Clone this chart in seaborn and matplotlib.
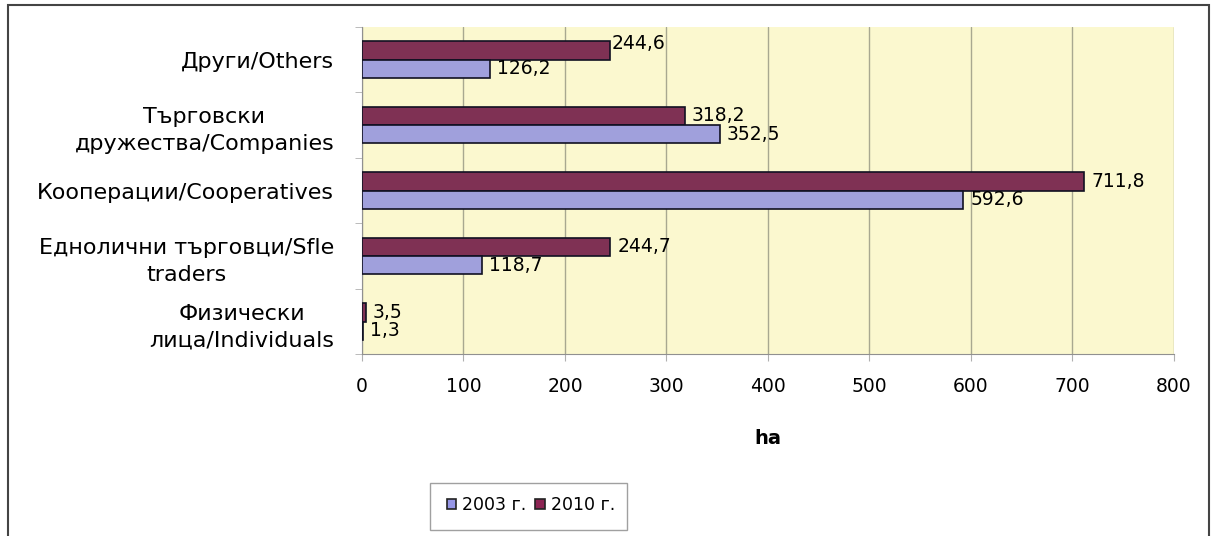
import numpy as np
import pandas as pd
import matplotlib
matplotlib.use("Agg")
import matplotlib.pyplot as plt
import seaborn as sns
from matplotlib.patches import Rectangle, Patch

categories = ["Други/Others", "Търговски\nдружества/Companies", "Кооперации/Cooperatives",
              "Еднолични търговци/Sfle\ntraders", "Физически\nлица/Individuals"]
vals_2003 = [126.2, 352.5, 592.6, 118.7, 1.3]
vals_2010 = [244.6, 318.2, 711.8, 244.7, 3.5]
years = ["2003 г.", "2010 г."]
colors = {"2003 г.": "#9696E6", "2010 г.": "#8C2453"}

df = pd.DataFrame({
    "cat": categories * 2,
    "year": [years[0]] * 5 + [years[1]] * 5,
    "val": vals_2003 + vals_2010,
})

sns.set_style("white")
plt.rcParams['font.family'] = ['DejaVu Sans']
plt.rcParams['text.color'] = 'black'
plt.rcParams['xtick.color'] = 'black'
plt.rcParams['ytick.color'] = 'black'
plt.rcParams['axes.labelcolor'] = 'black'

fig = plt.figure(figsize=(12.12, 5.36), dpi=100)
ax = fig.add_axes([0.2987, 0.339, 0.6697, 0.611])

sns.barplot(data=df, y="cat", x="val", hue="year", hue_order=[years[1], years[0]],
            palette=colors, order=categories, orient="h", width=0.56,
            edgecolor="#111122", linewidth=1.2, ax=ax, legend=False, zorder=3)

ax.set_facecolor("#FBF8CF")
ax.set_xlim(0, 800)
ax.set_ylim(4.5, -0.5)
ax.set_xticks(range(0, 801, 100))
ax.grid(axis="x", color="#A8A890", linewidth=1, zorder=0)
ax.grid(axis="y", visible=False)
for s in ["top", "right"]:
    ax.spines[s].set_visible(False)
ax.spines["left"].set_color("#909090")
ax.spines["bottom"].set_color("#909090")
ax.set_yticks(np.arange(-0.5, 4.6, 1), minor=True)
ax.tick_params(axis="y", which="major", length=0, pad=20, labelsize=16)
ax.tick_params(axis="y", which="minor", length=5, color="#B0B0B0", left=True)
ax.tick_params(axis="x", length=5, color="#B0B0B0", bottom=True, labelsize=13.5, pad=11)
for t in ax.get_yticklabels():
    t.set_horizontalalignment("right")
    t.set_multialignment("center")
    t.set_linespacing(1.45)
ax.set_ylabel("")
ax.set_xlabel("ha", fontsize=14, fontweight="bold", labelpad=24)

# value labels
for cont, yr in zip(ax.containers, [years[1], years[0]]):
    for i, bar in enumerate(cont):
        w = bar.get_width()
        yc = bar.get_y() + bar.get_height() / 2
        dx, dy = 5, 0
        if yr == years[1] and i == 0:
            dx, dy = 1, 5
        ax.annotate(f"{w:.1f}".replace(".", ","), (w, yc), xytext=(dx, dy),
                    textcoords="offset points", ha="left", va="center",
                    fontsize=13.5, zorder=5)

handles = [Patch(facecolor=colors[y], edgecolor="#222222", linewidth=1.2) for y in years]
fig.legend(handles, years, loc="upper left", bbox_to_anchor=(0.357, 0.1),
           frameon=False, fontsize=12.5,
           handlelength=0.55, handleheight=0.55, handletextpad=0.35, columnspacing=0.5,
           ncol=2, borderpad=0.3)
fig.patches.append(Rectangle((0.3548, 0.0112), 0.1625, 0.0877, transform=fig.transFigure,
                             fill=False, edgecolor="#A0A0A0", linewidth=1))

fig.patches.append(Rectangle((0.0066, -0.1), 0.991, 1.09, transform=fig.transFigure,
                             fill=False, edgecolor="#444444", linewidth=1.5))

fig.savefig("out.png", dpi=100)
